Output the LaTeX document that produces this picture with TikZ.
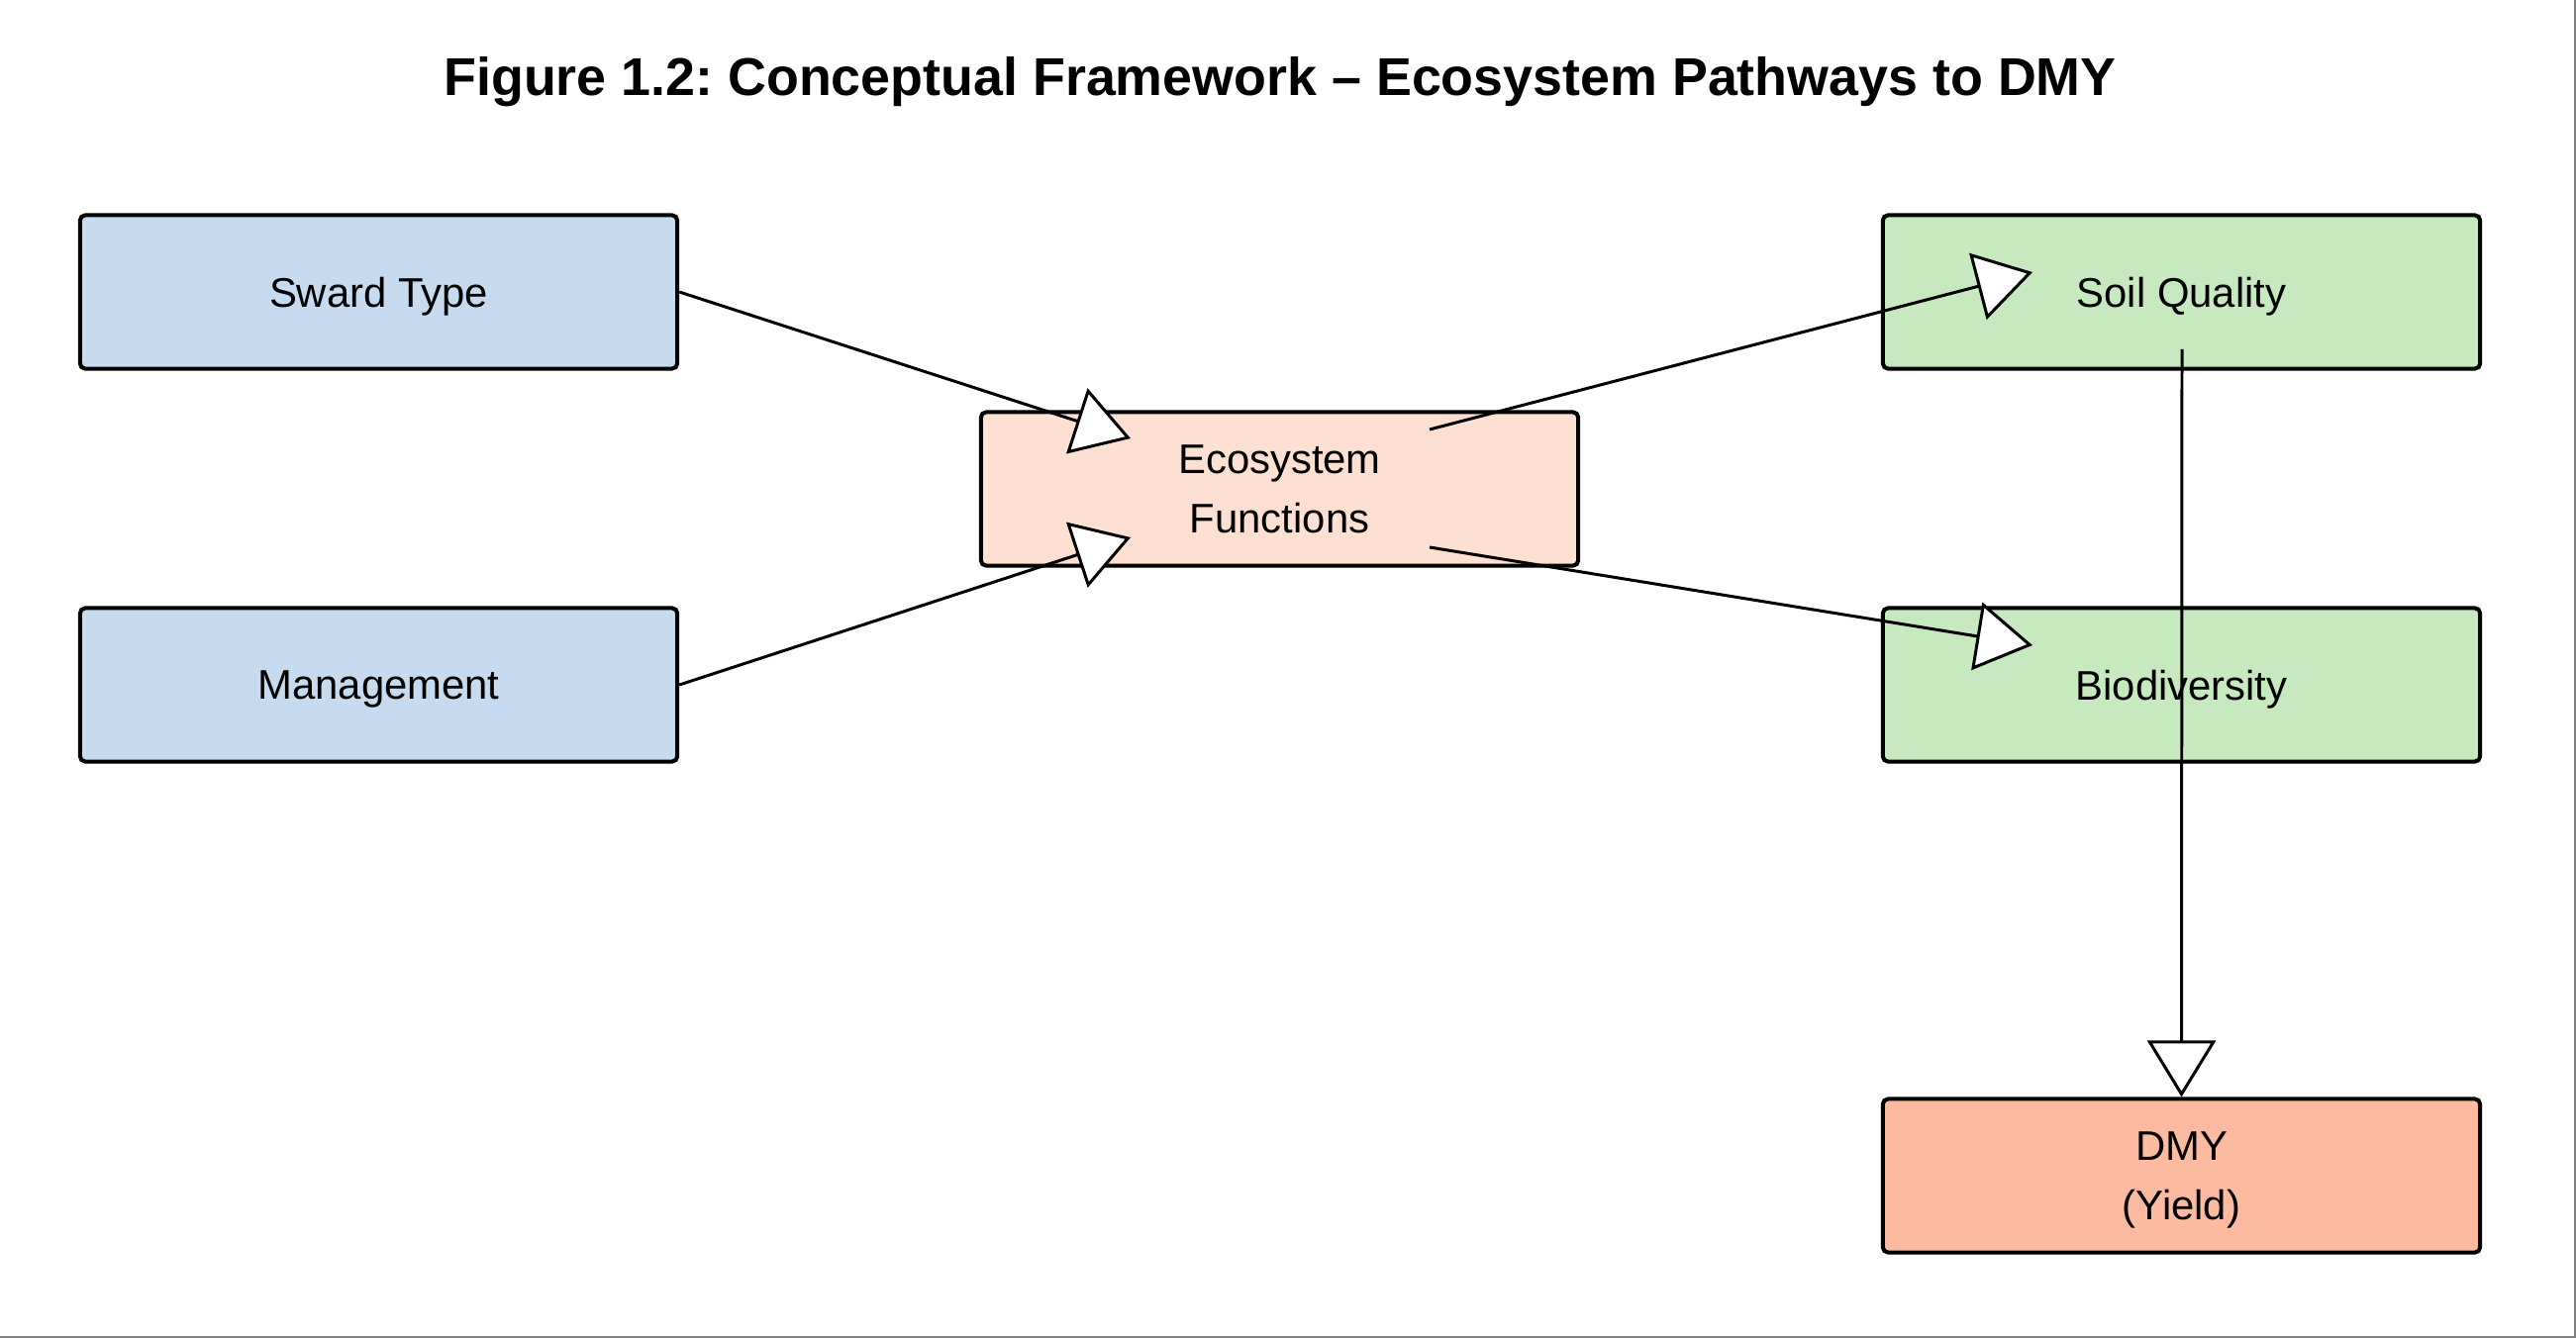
\documentclass[tikz,border=0pt]{standalone}
\usepackage{fontspec}
\setmainfont{Liberation Sans}
\usetikzlibrary{arrows.meta}
\definecolor{inblue}{HTML}{C6DBEF}
\definecolor{ecopink}{HTML}{FEE0D2}
\definecolor{outgreen}{HTML}{C7E9C0}
\definecolor{yieldred}{HTML}{FCBBA1}
\frenchspacing

\begin{document}
\begin{tikzpicture}[
        x=0.01cm, y=-0.01cm,
        box/.style = {draw=black, fill=#1, line width=1.15pt, rounded corners=1.5pt,
                      minimum width=6.03cm, minimum height=1.55cm, align=center,
                      text depth=0pt, font=\fontsize{11.9}{17.1}\selectfont},
        flow/.style = {->, line width=0.85pt},
        >={Triangle[fill=white, length=0.57cm, width=0.69cm]}
        ]
        \useasboundingbox (0,0) rectangle (2602,1352);

        \node (title) at (1293,83) [font=\bfseries\fontsize{15.3}{18}\selectfont]
              {Figure 1.2: Conceptual Framework -- Ecosystem Pathways to DMY};

        \node (sward) at (382.5,295)  [box=inblue] {Sward Type};
        \node (mgmt)  at (382.5,692)  [box=inblue] {Management};
        \node (eco)   at (1292.5,494) [box=ecopink] {Ecosystem\\Functions};
        \node (soil)  at (2203.5,295) [box=outgreen] {Soil Quality};
        \node (bio)   at (2203.5,692) [box=outgreen] {Biodiversity};
        \node (dmy)   at (2203.5,1188) [box=yieldred] {DMY\\(Yield)};

        % arrow ends inside the boxes
        \coordinate (eco in1)  at (1142,443);
        \coordinate (eco in2)  at (1142,543);
        \coordinate (eco out1) at (1444,434);
        \coordinate (eco out2) at (1444,553);
        \coordinate (soil in)  at (2053,275);
        \coordinate (bio in)   at (2053,652);
        \coordinate (soil out) at (2204,353);

        \draw[flow] (sward.east) -- (eco in1);
        \draw[flow] (mgmt.east) -- (eco in2);
        \draw[flow] (eco out1) -- (soil in);
        \draw[flow] (eco out2) -- (bio in);
        \draw[flow] (soil out) -- (dmy.north);

        \draw[gray, line width=0.02cm] (2601,0) -- (2601,1351) -- (0,1351);
    \end{tikzpicture}
\end{document}
